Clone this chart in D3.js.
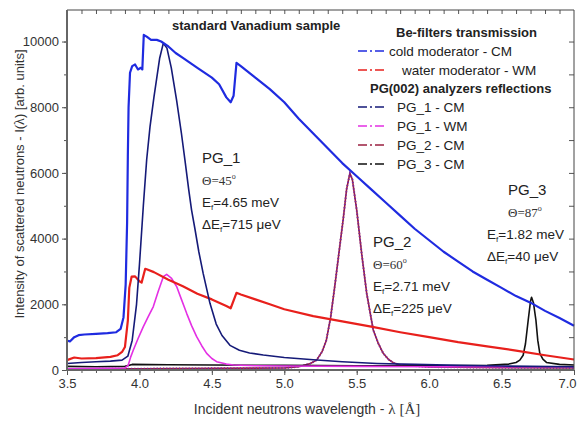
<!DOCTYPE html>
<html>
<head>
<meta charset="utf-8">
<script src="https://cdn.jsdelivr.net/npm/d3@7"></script>
<style>
  body { margin: 0; background: #fff; }
  svg { font-family: "Liberation Sans", Arial, sans-serif; }
  .serif { font-family: "Liberation Serif", "Times New Roman", serif; }
</style>
</head>
<body>
<svg id="chart" width="579" height="421"></svg>
<script>
// wavelength [A], intensity [arb. units]
const beCold = [[3.50,900],[3.52,870],[3.55,1000],[3.58,1060],[3.62,1080],[3.70,1100],[3.78,1120],[3.84,1150],
  [3.87,1250],[3.89,1600],[3.905,2600],[3.915,4500],[3.92,6500],[3.925,8000],[3.935,9050],[3.95,9250],[3.97,9300],
  [3.99,9150],[4.01,9200],[4.02,9150],[4.03,10200],[4.05,10150],[4.08,10050],[4.12,10050],[4.15,10000],[4.2,9850],
  [4.25,9650],[4.3,9500],[4.4,9200],[4.5,8900],[4.55,8700],[4.6,8300],[4.63,8150],[4.65,8350],[4.67,9350],[4.7,9250],
  [4.8,8900],[4.9,8550],[5.0,8150],[5.1,7650],[5.2,7200],[5.3,6750],[5.4,6300],[5.5,5900],[5.6,5500],[5.7,5100],
  [5.8,4700],[5.9,4300],[6.0,3950],[6.1,3600],[6.2,3300],[6.3,3000],[6.4,2750],[6.5,2500],[6.6,2250],[6.7,2050],
  [6.8,1800],[6.9,1580],[7.0,1350]];

const beWater = [[3.5,300],[3.55,380],[3.6,350],[3.7,360],[3.8,400],[3.85,450],[3.88,550],[3.9,700],[3.92,1500],
  [3.93,2500],[3.946,2840],[3.97,2850],[4.0,2700],[4.015,2660],[4.04,3080],[4.05,3065],[4.1,2980],[4.2,2750],
  [4.3,2550],[4.4,2320],[4.5,2150],[4.6,1950],[4.63,1880],[4.67,2350],[4.7,2300],[4.8,2150],[4.9,2000],[5.0,1850],
  [5.2,1640],[5.4,1480],[5.6,1320],[5.8,1150],[6.0,1000],[6.2,850],[6.4,720],[6.6,590],[6.8,450],[7.0,320]];

const pg1Cold = [[3.5,200],[3.6,230],[3.7,250],[3.8,270],[3.88,300],[3.92,420],[3.95,900],[3.98,2000],[4.0,3200],
  [4.027,5000],[4.05,6400],[4.073,7400],[4.1,8300],[4.12,8900],[4.14,9500],[4.165,9950],[4.19,9800],[4.22,9200],
  [4.257,8200],[4.29,7200],[4.314,6400],[4.34,5500],[4.36,4870],[4.383,4300],[4.41,3600],[4.44,2940],[4.487,2030],
  [4.53,1400],[4.57,1050],[4.625,750],[4.69,600],[4.76,520],[4.855,457],[5.0,380],[5.2,310],[5.4,250],[5.64,200],
  [5.9,170],[6.2,140],[6.5,120],[7.0,100]];

const pg1Water = [[3.5,40],[3.7,50],[3.9,60],[3.923,150],[3.94,400],[3.958,610],[3.99,950],[4.027,1320],[4.06,1620],
  [4.096,1930],[4.13,2400],[4.165,2840],[4.188,2913],[4.22,2800],[4.257,2540],[4.29,2150],[4.326,1725],[4.36,1350],
  [4.395,1015],[4.43,740],[4.464,508],[4.5,350],[4.533,253],[4.6,180],[4.65,150],[4.8,130],[5.0,120],[5.5,110],
  [6.0,100],[6.5,100],[7.0,100]];

const pg2Cold = [[3.5,30],[4.0,40],[4.5,50],[5.0,60],[5.1,100],[5.18,200],[5.223,300],[5.26,550],[5.29,900],
  [5.32,1600],[5.35,2600],[5.384,3800],[5.407,4600],[5.43,5500],[5.453,5990],[5.47,5800],[5.5,4870],[5.534,3550],
  [5.569,2330],[5.614,1218],[5.65,800],[5.683,508],[5.72,320],[5.752,223],[5.8,150],[6.0,90],[6.5,70],[7.0,60]];

const pg3Cold = [[3.5,110],[3.7,100],[3.9,110],[3.95,170],[4.2,160],[4.5,150],[5.0,140],[5.5,130],[6.0,130],
  [6.4,140],[6.55,180],[6.6,230],[6.626,300],[6.649,450],[6.665,800],[6.684,1522],[6.7,2100],[6.707,2213],
  [6.72,2050],[6.737,1522],[6.75,900],[6.764,508],[6.785,330],[6.81,230],[6.9,170],[7.0,150]];

const xTicks = [3.5, 4.0, 4.5, 5.0, 5.5, 6.0, 6.5, 7.0];
const yTicks = [0, 2000, 4000, 6000, 8000, 10000];

const series = [
  { name: 'cold moderator - CM', data: beCold, color: '#1f2be0', width: 2.2 },
  { name: 'water moderator - WM', data: beWater, color: '#e8201c', width: 2.2 },
  { name: 'PG_1 - CM', data: pg1Cold, color: '#151a78', width: 1.6 },
  { name: 'PG_1 - WM', data: pg1Water, color: '#e430e4', width: 1.6 },
  { name: 'PG_2 - CM', data: pg2Cold, color: '#9a2040', width: 1.6, dots: '#7a2aa0' },
  { name: 'PG_3 - CM', data: pg3Cold, color: '#111111', width: 1.6 }
];

const legendGroups = [
  { title: 'Be-filters transmission', items: [0, 1] },
  { title: 'PG(002) analyzers reflections', items: [2, 3, 4, 5] }
];

const peakNotes = [
  { name: 'PG_1', theta: '45', ef: '4.65 meV', def: '715 \u03bceV' },
  { name: 'PG_2', theta: '60', ef: '2.71 meV', def: '225 \u03bceV' },
  { name: 'PG_3', theta: '87', ef: '1.82 meV', def: '40 \u03bceV' }
];

const svg = d3.select('#chart');
const margin = { top: 10, right: 5, bottom: 51, left: 67 };
const width = 579 - margin.left - margin.right;
const height = 421 - margin.top - margin.bottom;

const x = d3.scaleLinear().domain([3.5, 7.0]).range([0, width]);
const y = d3.scaleLinear().domain([0, 10960]).range([height, 0]);

const g = svg.append('g').attr('transform', `translate(${margin.left},${margin.top})`);

// curves
const line = d3.line().x(d => x(d[0])).y(d => y(d[1]));
const curves = g.append('g');
// draw the low ones first, the Be-filter curves on top of PG_1
[4, 5, 3, 1, 2, 0].forEach(i => {
  const s = series[i];
  curves.append('path')
    .attr('d', line(s.data))
    .attr('fill', 'none')
    .attr('stroke', s.color)
    .attr('stroke-width', s.width)
    .attr('stroke-linejoin', 'round');
  if (s.dots) {
    curves.append('path')
      .attr('d', line(s.data))
      .attr('fill', 'none')
      .attr('stroke', s.dots)
      .attr('stroke-width', 2)
      .attr('stroke-dasharray', '1.2,2');
  }
});

// axes
const tickText = sel => sel.selectAll('text')
  .attr('font-size', 13).attr('fill', '#333');

const xAxis = g.append('g')
  .attr('transform', `translate(0,${height})`)
  .call(d3.axisBottom(x).tickValues(d3.range(35, 71, 1).map(v => v / 10)).tickSize(3).tickFormat(''));
xAxis.append('g')
  .call(d3.axisBottom(x).tickValues(xTicks).tickSize(5).tickPadding(4).tickFormat(d3.format('.1f')))
  .call(tickText);
// last label sits on the window edge
xAxis.selectAll('.tick text').filter(d => d === 7.0).attr('dx', -7);

const yAxis = g.append('g')
  .call(d3.axisLeft(y).tickValues(d3.range(1000, 11000, 1000)).tickSize(3).tickFormat(''));
yAxis.append('g')
  .call(d3.axisLeft(y).tickValues(yTicks).tickSize(5).tickPadding(3).tickFormat(d3.format('d')))
  .call(tickText);

g.append('g')
  .call(d3.axisTop(x).tickValues(d3.range(36, 70, 1).map(v => v / 10)).tickSize(-4).tickFormat(''));
g.append('g')
  .attr('transform', `translate(${width},0)`)
  .call(d3.axisRight(y).tickValues(d3.range(1000, 11000, 1000)).tickSize(-5).tickFormat(''));

g.selectAll('.domain').remove();
g.selectAll('.tick line').attr('stroke', '#555');

// frame: left and bottom heavier
g.append('line').attr('x1', 0).attr('x2', width).attr('y1', 0).attr('y2', 0).attr('stroke', '#444');
g.append('line').attr('x1', width).attr('x2', width).attr('y1', 0).attr('y2', height).attr('stroke', '#444');
g.append('line').attr('x1', 0).attr('x2', 0).attr('y1', 0).attr('y2', height + 1).attr('stroke', '#666').attr('stroke-width', 2);
g.append('line').attr('x1', -1).attr('x2', width).attr('y1', height).attr('y2', height).attr('stroke', '#666').attr('stroke-width', 2);

// axis titles
const xTitle = svg.append('text')
  .attr('x', 307).attr('y', 414)
  .attr('text-anchor', 'middle')
  .attr('font-size', 14).attr('fill', '#333');
xTitle.append('tspan').text('Incident neutrons wavelength - ');
xTitle.append('tspan').attr('class', 'serif').attr('font-size', 15).text('\u03bb [\u00c5]');

const yTitle = svg.append('text')
  .attr('transform', 'translate(24,184) rotate(-90)')
  .attr('text-anchor', 'middle')
  .attr('font-size', 13).attr('fill', '#333');
yTitle.append('tspan').text('Intensity of scattered neutrons - I(');
yTitle.append('tspan').attr('class', 'serif').attr('font-size', 14).text('\u03bb');
yTitle.append('tspan').text(') [arb. units]');

// title
g.append('text')
  .attr('x', 105).attr('y', 20)
  .attr('font-size', 13).attr('font-weight', 'bold').attr('fill', '#222')
  .text('standard Vanadium sample');

// legend
const legend = svg.append('g').attr('transform', 'translate(358,0)');
let ly = 37;
legendGroups.forEach(grp => {
  legend.append('text')
    .attr('x', grp.items.length > 2 ? 12 : 38).attr('y', ly)
    .attr('font-size', 13).attr('font-weight', 'bold').attr('fill', '#222')
    .text(grp.title);
  ly += 19;
  grp.items.forEach(i => {
    const s = series[i];
    legend.append('line')
      .attr('x1', 0).attr('x2', 29)
      .attr('y1', ly - 5).attr('y2', ly - 5)
      .attr('stroke', s.color).attr('stroke-width', 1.4)
      .attr('stroke-dasharray', '9,3,2,3');
    legend.append('text')
      .attr('x', i === 1 ? 44 : (i === 0 ? 31 : 39)).attr('y', ly)
      .attr('font-size', 13.5).attr('fill', '#222')
      .text(s.name);
    ly += 19;
  });
  ly -= 1;
});

// peak annotations
const notePos = [[202, 163], [373, 247], [487, 195]];
peakNotes.forEach((n, i) => {
  const [nx, ny] = notePos[i];
  const indent = i === 2 ? 21 : 0;
  const t = svg.append('g').attr('fill', '#222');
  t.append('text').attr('x', nx + indent).attr('y', ny).attr('font-size', 15).text(n.name);
  t.append('text').attr('class', 'serif').attr('x', nx + indent).attr('y', ny + 22)
    .attr('font-size', 13).attr('fill', '#333')
    .text(`\u0398=${n.theta}`)
    .append('tspan').attr('dy', -6).attr('font-size', 8).text('o');
  const ef = t.append('text').attr('x', nx).attr('y', ny + 44).attr('font-size', 13.5);
  ef.append('tspan').text('E');
  ef.append('tspan').attr('dy', 3).attr('font-size', 8).text('f');
  ef.append('tspan').attr('dy', -3).text('=' + n.ef);
  const def = t.append('text').attr('x', nx).attr('y', ny + 66).attr('font-size', 13.5);
  def.append('tspan').text('\u0394E');
  def.append('tspan').attr('dy', 3).attr('font-size', 8).text('f');
  def.append('tspan').attr('dy', -3).text('=' + n.def);
});
</script>
</body>
</html>
